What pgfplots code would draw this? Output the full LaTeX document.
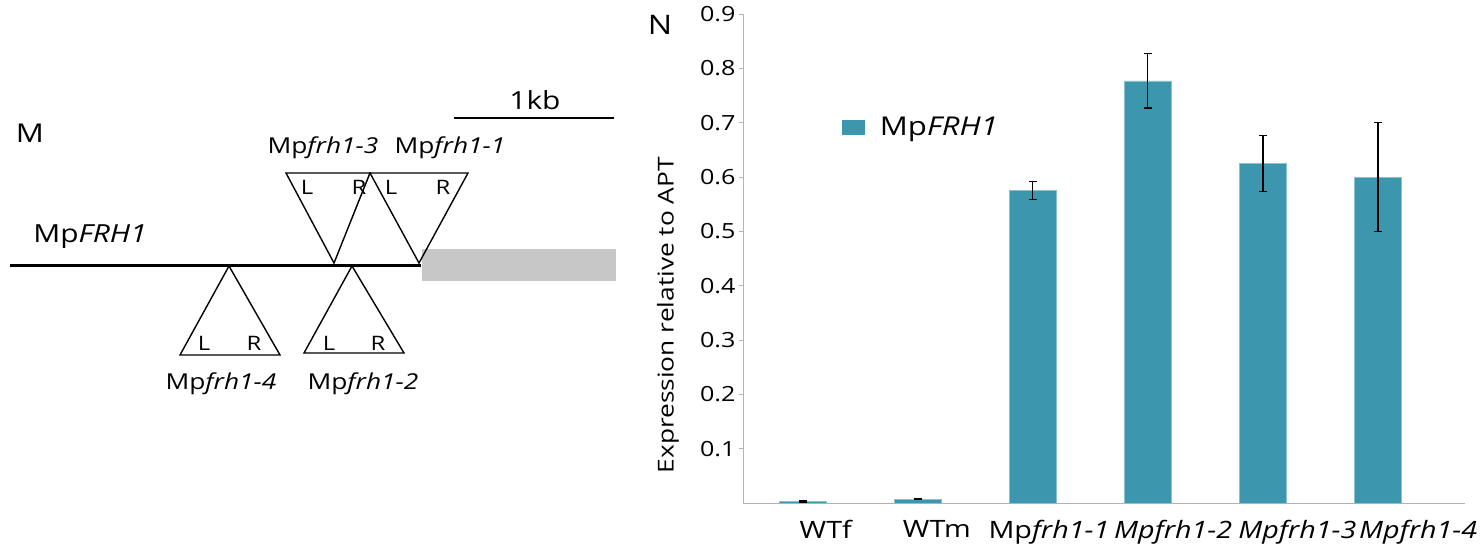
\documentclass[border=0pt]{standalone}
\usepackage{pgfplots}
\pgfplotsset{compat=1.18}
\usepackage{fontspec}
\setmainfont{Open Sans}[FakeStretch=1.2]
\definecolor{barc}{RGB}{60,151,174}
\newcommand{\fs}[1]{\fontsize{#1}{#1}\selectfont}
\begin{document}
\begin{tikzpicture}
\useasboundingbox (0,0) rectangle (1482bp,-548bp);
% ---------- panel M: gene diagram ----------
\begin{axis}[at={(0,0)}, anchor=north west, width=640bp, height=548bp,
  scale only axis, hide axis, xmin=0, xmax=640, ymin=0, ymax=548,
  y dir=reverse, clip=false]
\draw[line width=3bp] (10,265) -- (421,265);
\fill[black!22] (422,249) rectangle (616,281);
\draw[line width=1.6bp] (454,118) -- (614,118);
\node[font=\fs{25}] at (535,100) {1kb};
\node[font=\fs{26}] at (30,133) {M};
\node[font=\fs{25}] at (90,237) {Mp\textit{FRH1}};
\draw[line width=1.4bp, line join=miter] (286,173) -- (370,173) -- (334,263) -- cycle;
\draw[line width=1.4bp, line join=miter] (370,173) -- (468,173) -- (419,263) -- cycle;
\draw[line width=1.4bp, line join=miter] (229,266) -- (280,355) -- (180,355) -- cycle;
\draw[line width=1.4bp, line join=miter] (352,266) -- (404,353) -- (304,353) -- cycle;
\node[font=\fs{20}] at (307,187) {L};
\node[font=\fs{20}] at (359,187) {R};
\node[font=\fs{20}] at (391,187) {L};
\node[font=\fs{20}] at (443,187) {R};
\node[font=\fs{20}] at (204,343) {L};
\node[font=\fs{20}] at (254,343) {R};
\node[font=\fs{20}] at (329,343) {L};
\node[font=\fs{20}] at (378,343) {R};
\node[font=\fs{22}] at (323,148) {Mp\textit{frh1-3}};
\node[font=\fs{22}] at (450,148) {Mp\textit{frh1-1}};
\node[font=\fs{22}] at (221,384) {Mp\textit{frh1-4}};
\node[font=\fs{22}] at (363,384) {Mp\textit{frh1-2}};
\end{axis}
% ---------- panel N: bar chart ----------
\node[font=\fs{27}] at (660bp,-25bp) {N};
\begin{axis}[at={(743bp,-503bp)}, anchor=south west, width=722bp, height=489bp,
  scale only axis, xmin=-0.52, xmax=5.757, ymin=0, ymax=0.9,
  ybar, bar width=47bp,
  axis x line=bottom, axis y line=left,
  axis line style={-, draw=gray!60, line width=1bp},
  ytick={0.1,0.2,0.3,0.4,0.5,0.6,0.7,0.8,0.9},
  yticklabel style={/pgf/number format/.cd, fixed, fixed zerofill, precision=1, assume math mode=true},
  tick label style={font=\fs{21}},
  y tick style={draw=gray!60, line width=1bp}, tick align=outside, major tick length=4bp,
  xtick={0.2,1.165,2.14,3.22,4.30,5.35},
  xticklabels={WTf, WTm, Mp\textit{frh1-1}, \textit{Mpfrh1-2}, \textit{Mpfrh1-3}, \textit{Mpfrh1-4}},
  xticklabel style={font=\fs{24}, yshift=-10bp},
  x tick style={draw=none},
  every axis y label/.style={at={(axis description cs:-0.104,0.384)}, rotate=90, anchor=center},
  ylabel={Expression relative to APT}, ylabel style={font=\fs{22}},
  legend style={at={(axis description cs:0.132,0.769)}, anchor=west, draw=none, fill=none, font=\fs{26}},
  legend image code/.code={\fill[barc] (0bp,-7bp) rectangle (22bp,7bp); \path (36bp,0bp);},
  clip=false]
\addplot[fill=barc, draw=barc!60!white,
  error bars/.cd, y dir=both, y explicit,
  error bar style={line width=1.2bp, black},
  error mark options={rotate=90, mark size=4bp, line width=1.2bp, black}]
  coordinates {
    (0,0.003) +- (0,0.001)
    (1,0.007) +- (0,0.001)
    (2,0.575) +- (0,0.016)
    (3,0.777) +- (0,0.050)
    (4,0.625) +- (0,0.051)
    (5,0.600) +- (0,0.100)
  };
\addlegendentry{Mp\textit{FRH1}}
\end{axis}
\end{tikzpicture}
\end{document}
